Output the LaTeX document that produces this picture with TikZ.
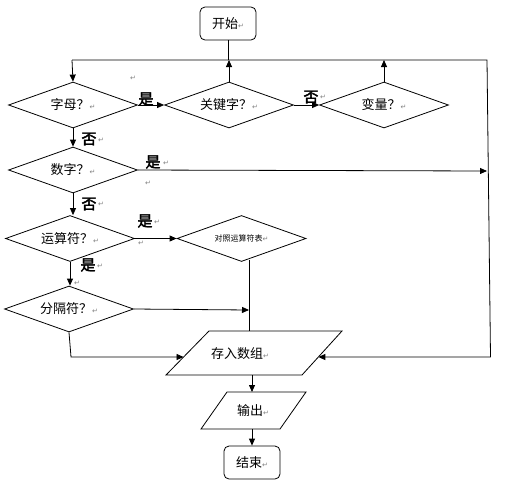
\documentclass[tikz,border=0pt]{standalone}
\usepackage{fontspec}
\setmainfont{Noto Sans CJK SC}
\newfontfamily\symfont{DejaVu Sans}
\newfontfamily\boldcjk[FakeBold=2.5]{Noto Sans CJK SC}
\usetikzlibrary{shapes.geometric,arrows.meta,calc}
\newcommand\rt{{\symfont\color{gray}\fontsize{7pt}{8pt}\selectfont ↵}}
\begin{document}
\begin{tikzpicture}[x=1pt,y=-1pt,line width=0.8pt,
  arr/.style={-{Triangle[length=7pt,width=6pt]}},
  nfont/.style={font=\fontsize{13pt}{15pt}\selectfont},
  dec/.style={draw,diamond,aspect=2.8,minimum width=129pt,minimum height=46pt,inner sep=0pt,nfont},
  term/.style={draw,rounded corners=5pt,minimum width=56pt,minimum height=33pt,inner sep=0pt,nfont},
  txt/.style={inner sep=0pt,nfont},
  lab/.style={inner sep=0pt,font=\boldcjk\fontsize{15pt}{16pt}\selectfont},
  rtmark/.style={inner sep=0pt,text=gray,font=\symfont\fontsize{7pt}{8pt}\selectfont}]
\useasboundingbox (0,0) rectangle (529,498);
% nodes
\node[term] (start) at (228,23.5) {开始\rt};
\node[dec] (zm) at (73,105) {字母？\rt};
\node[dec] (gjz) at (229,105) {关键字？\rt};
\node[dec] (bl) at (384,105) {变量？\rt};
\node[dec] (sz) at (73,170) {数字？\rt};
\node[dec] (ysf) at (70,238.5) {运算符？\rt};
\node[dec,font=\fontsize{8pt}{9pt}\selectfont] (dz) at (241.5,238.5) {对照运算符表\rt};
\node[dec] (fgf) at (69,309) {分隔符？\rt};
% parallelograms
\coordinate (s1) at (209,331); \coordinate (s2) at (342,331);
\coordinate (s3) at (302,375); \coordinate (s4) at (166,375);
\draw (s1)--(s2)--(s3)--(s4)--cycle;
\node[txt] (store) at (240,354) {存入数组\rt};
\coordinate (o1) at (227,392); \coordinate (o2) at (306,392);
\coordinate (o3) at (280,429); \coordinate (o4) at (201,429);
\draw (o1)--(o2)--(o3)--(o4)--cycle;
\node[txt] (out) at (253,411) {输出\rt};
\node[term] (end) at (252,462.5) {结束\rt};
% helper coordinates
\coordinate (topL) at (72,60);
\coordinate (topR) at (487,60);
\coordinate (botR) at (490.5,357);
\coordinate (sL) at ($(s1)!0.5909!(s4)$);
\coordinate (sR) at ($(s2)!0.5909!(s3)$);
\coordinate (sT) at (249,331);
\coordinate (sB) at (252,375);
\coordinate (oT) at (252,392);
\coordinate (oB) at (252,429);
\coordinate (dzB) at (249,260);
\coordinate (fgfE) at (249,310);
\coordinate (szE) at (487,171);
\coordinate (fgfC) at (71,357);
% connectors
\draw (start.south) -- (start.south |- topL);
\draw (topL) -- (topR) -- (botR);
\draw[arr] (botR) -- (sR);
\draw[arr] (topL) -- (zm.north);
\draw[arr] (gjz.north) -- (gjz.north |- topL);
\draw[arr] (bl.north) -- (bl.north |- topL);
\draw[arr] (zm.east) -- (gjz.west);
\draw[arr] (gjz.east) -- (bl.west);
\draw[arr] (zm.south) -- (zm.south |- sz.north);
\draw[arr] (sz.east) -- (szE);
\draw[arr] (sz.south) -- (sz.south |- ysf.north);
\draw[arr] (ysf.east) -- (dz.west);
\draw[arr] (ysf.south) -- (ysf.south |- fgf.north);
\draw[arr] (fgf.east) -- (fgfE);
\draw (dzB) -- (sT);
\draw[arr] (fgf.south) -- (fgfC) -- (sL);
\draw[arr] (sB) -- (oT);
\draw[arr] (oB) -- (end.north);
% labels
\node[lab] (l1) at (146,99) {是};
\node[lab] (l2) at (311,97) {否};
\node[rtmark] (r2) at (323,97) {↵};
\node[lab] (l3) at (89,139) {否};
\node[rtmark] (r3) at (101,140) {↵};
\node[lab] (l4) at (153,162) {是};
\node[rtmark] (r4) at (166,163) {↵};
\node[lab] (l5) at (89,204) {否};
\node[rtmark] (r5) at (101,204) {↵};
\node[lab] (l6) at (145,221) {是};
\node[rtmark] (r6) at (157,222) {↵};
\node[lab] (l7) at (88,265) {是};
\node[rtmark] (r7) at (100,266) {↵};
% stray paragraph marks
\node[rtmark] (m1) at (133,78) {↵};
\node[rtmark] (m2) at (148,183) {↵};
\node[rtmark] (m3) at (141,243) {↵};
\node[rtmark] (m4) at (77,283) {↵};
\end{tikzpicture}
\end{document}
